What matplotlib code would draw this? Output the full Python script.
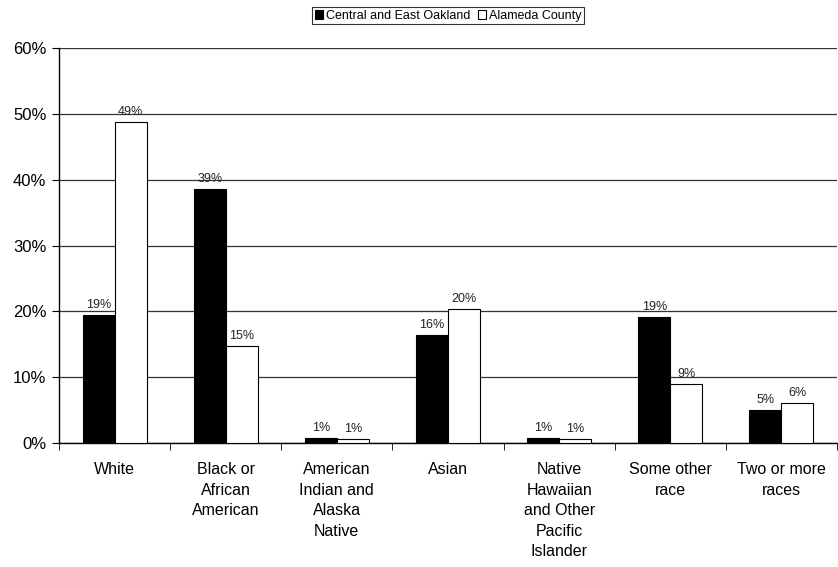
import matplotlib
matplotlib.use("Agg")
import matplotlib.pyplot as plt
import numpy as np

categories = ["White", "Black or\nAfrican\nAmerican", "American\nIndian and\nAlaska\nNative",
              "Asian", "Native\nHawaiian\nand Other\nPacific\nIslander", "Some other\nrace",
              "Two or more\nraces"]
central_east_oakland = [19.4, 38.6, 0.8, 16.4, 0.7, 19.1, 5.0]
alameda_county = [48.7, 14.7, 0.6, 20.3, 0.6, 8.9, 6.0]
series_names = ["Central and East Oakland", "Alameda County"]
y_ticks = [0, 10, 20, 30, 40, 50, 60]

plt.rcParams["font.family"] = ["Liberation Sans", "DejaVu Sans"]

fig = plt.figure(figsize=(8.38, 5.67), dpi=100)
ax = fig.add_axes([0.0704, 0.2187, 0.9284, 0.6966])

x = np.arange(len(categories))
w = 0.288
b1 = ax.bar(x - w / 2, central_east_oakland, w, color="black", edgecolor="black",
            linewidth=0.8, label=series_names[0], zorder=3)
b2 = ax.bar(x + w / 2, alameda_county, w, color="white", edgecolor="black",
            linewidth=0.8, label=series_names[1], zorder=3)

for bars, vals in ((b1, central_east_oakland), (b2, alameda_county)):
    for rect, v in zip(bars, vals):
        ax.annotate(f"{v:.0f}%", (rect.get_x() + rect.get_width() / 2, v),
                    xytext=(0, 3), textcoords="offset points",
                    ha="center", va="bottom", fontsize=9, color="#222222")

ax.set_xlim(-0.5, len(categories) - 0.5)
ax.set_ylim(0, 60)
ax.set_yticks(y_ticks)
ax.set_yticklabels([f"{t}%" for t in y_ticks], fontsize=12)
ax.yaxis.grid(True, color="#333333", linewidth=0.9, zorder=0)
ax.set_axisbelow(True)

ax.set_xticks(x)
ax.set_xticklabels(categories, fontsize=11.5, linespacing=1.45)
ax.set_xticks(np.arange(len(categories) + 1) - 0.5, minor=True)
ax.tick_params(axis="x", which="major", length=0, pad=14)
ax.tick_params(axis="x", which="minor", length=5, direction="out", color="black")
ax.tick_params(axis="y", length=5, direction="out", color="black", pad=4)

for side in ("top", "right"):
    ax.spines[side].set_visible(False)
for side in ("left", "bottom"):
    ax.spines[side].set_color("black")
    ax.spines[side].set_linewidth(1.0)

leg = ax.legend(loc="lower center", bbox_to_anchor=(0.5, 1.06), ncol=2, fontsize=9,
                frameon=True, fancybox=False, edgecolor="black", handlelength=0.7,
                handleheight=0.7, handletextpad=0.2, columnspacing=0.6,
                borderpad=0.2, borderaxespad=0)
leg.get_frame().set_linewidth(0.8)

fig.savefig("out.png", dpi=100)
